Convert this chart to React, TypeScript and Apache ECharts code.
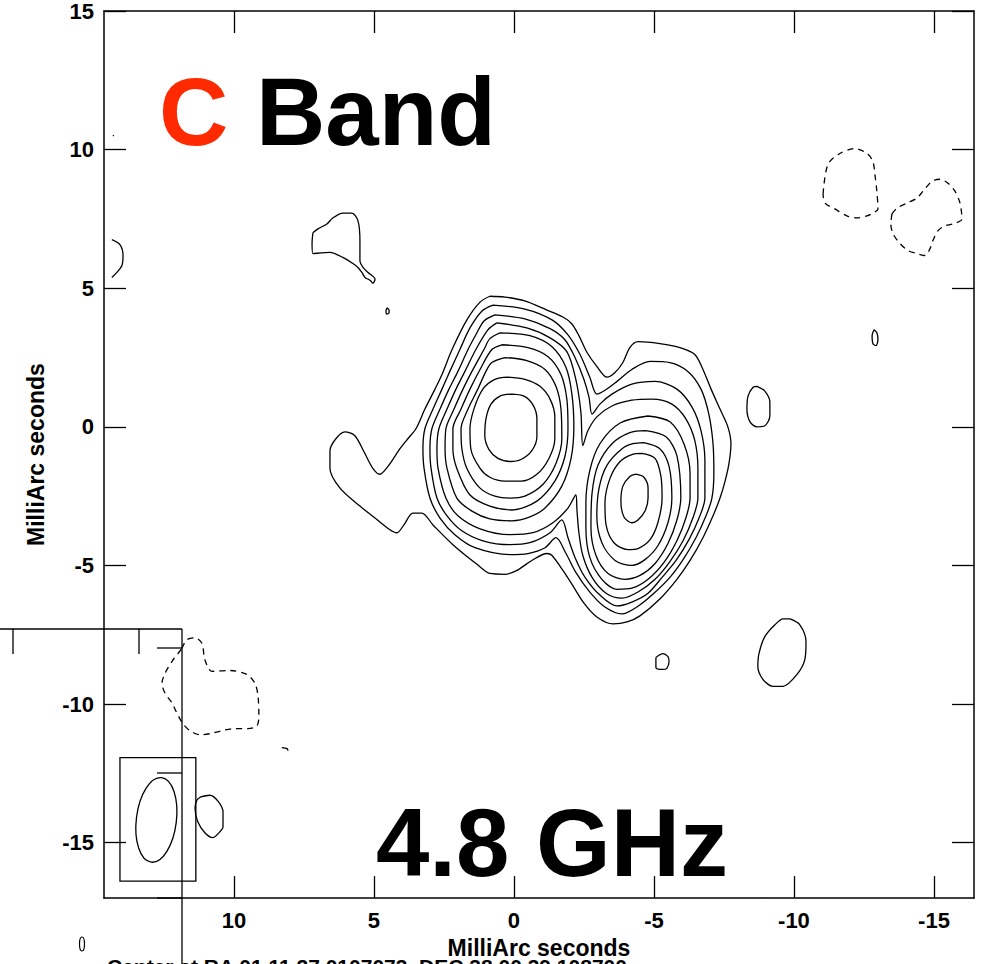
import React, { useEffect, useRef } from "react";
import * as echarts from "echarts";

type Pt = [number, number];

const FONT = '"Liberation Sans", Arial, Helvetica, sans-serif';

// Axis extents, milliarcseconds (RA offset grows to the left)
const xRange: [number, number] = [-16.43, 14.64];
const yRange: [number, number] = [-17, 15];
const xTicks = [-15, -10, -5, 0, 5, 10];
const yTicks = [-15, -10, -5, 0, 5, 10, 15];

// Western (brighter) component, closed levels 5..9
const ringA9: Pt[] = [[0.11,1.18],[-0.36,1.11],[-0.68,0.79],[-0.82,0.29],[-0.82,-0.36],[-0.64,-0.86],[-0.25,-1.18],[0.14,-1.25],[0.57,-1.14],[0.89,-0.82],[1.04,-0.32],[1.0,0.29],[0.82,0.82],[0.5,1.11]];
const ringA8: Pt[] = [[0.21,1.79],[-0.39,1.71],[-0.93,1.46],[-1.29,1.0],[-1.46,0.36],[-1.46,-0.43],[-1.25,-1.14],[-0.82,-1.71],[-0.25,-1.96],[0.32,-1.96],[0.86,-1.82],[1.21,-1.5],[1.54,-0.79],[1.57,-0.07],[1.43,0.64],[1.11,1.36],[0.68,1.71]];
const ringA7: Pt[] = [[0.32,2.5],[-0.46,2.39],[-1.11,2.07],[-1.5,1.46],[-1.68,0.64],[-1.71,-0.43],[-1.5,-1.32],[-1.04,-2.07],[-0.39,-2.5],[0.14,-2.57],[0.68,-2.5],[1.21,-2.21],[1.68,-1.5],[1.86,-0.79],[1.89,-0.07],[1.64,0.64],[1.29,1.36],[1.0,2.0],[0.79,2.32]];
const ringA6: Pt[] = [[0.43,2.96],[-0.5,2.86],[-1.21,2.54],[-1.68,1.89],[-1.89,1.0],[-1.93,-0.07],[-1.82,-1.07],[-1.46,-1.96],[-0.82,-2.68],[0.07,-3.0],[0.86,-2.86],[1.57,-2.46],[2.04,-1.5],[2.18,-0.79],[2.18,-0.07],[1.89,0.64],[1.57,1.36],[1.21,2.07],[0.79,2.79]];
const ringA5: Pt[] = [[0.5,3.39],[-0.57,3.29],[-1.36,2.89],[-1.86,2.14],[-2.07,1.18],[-2.14,0],[-2.04,-1.14],[-1.71,-2.14],[-1.11,-2.93],[-0.57,-3.25],[0.07,-3.39],[0.86,-3.32],[1.5,-3.04],[2.04,-2.57],[2.39,-1.5],[2.46,-0.79],[2.43,-0.07],[2.14,0.64],[1.82,1.36],[1.5,2.0],[1.07,2.79],[0.86,3.18]];

// Eastern component, closed levels 5..9
const ringB9: Pt[] = [[-4.36,-1.71],[-4.64,-1.82],[-4.79,-2.21],[-4.79,-2.57],[-4.68,-3.04],[-4.43,-3.36],[-4.21,-3.46],[-3.93,-3.25],[-3.82,-2.68],[-3.89,-2.14],[-4.14,-1.79]];
const ringB8: Pt[] = [[-4.57,-0.96],[-5.04,-1.14],[-5.25,-1.79],[-5.29,-2.57],[-5.14,-3.46],[-4.86,-4.07],[-4.43,-4.39],[-4.07,-4.43],[-3.57,-4.18],[-3.29,-3.54],[-3.25,-2.75],[-3.43,-1.86],[-3.79,-1.25],[-4.21,-1.0]];
const ringB7: Pt[] = [[-4.64,-0.57],[-5.21,-0.79],[-5.54,-1.43],[-5.64,-2.57],[-5.5,-3.46],[-5.14,-4.29],[-4.68,-4.79],[-4.21,-5.0],[-3.61,-4.82],[-3.14,-4.18],[-2.96,-3.21],[-3.04,-2.21],[-3.32,-1.39],[-3.86,-0.79],[-4.25,-0.61]];
const ringB6: Pt[] = [[-4.71,-0.14],[-5.43,-0.36],[-5.82,-1.04],[-5.96,-2.57],[-5.82,-3.36],[-5.5,-4.21],[-5.04,-4.93],[-4.5,-5.36],[-3.96,-5.5],[-3.36,-5.29],[-2.93,-4.64],[-2.75,-3.64],[-2.79,-2.39],[-3.0,-1.39],[-3.5,-0.61],[-4.14,-0.21]];
const ringB5: Pt[] = [[-4.79,0.39],[-5.57,0.18],[-6.07,-0.61],[-6.29,-1.68],[-6.29,-2.57],[-6.14,-3.29],[-5.82,-4.11],[-5.36,-4.89],[-4.79,-5.5],[-4.21,-5.82],[-3.68,-5.86],[-3.14,-5.5],[-2.71,-4.71],[-2.57,-3.64],[-2.57,-2.75],[-2.71,-1.57],[-3.07,-0.61],[-3.79,0.14]];

// Levels 1..4 enclose both components
const ringAB4: Pt[] = [[0.61,3.75],[-0.46,3.57],[-1.29,3.21],[-1.89,2.71],[-2.21,1.71],[-2.39,0.54],[-2.46,-0.68],[-2.64,-0.14],[-2.96,0.36],[-3.5,0.75],[-4.21,0.96],[-4.93,1.0],[-5.64,0.82],[-6.14,0.29],[-6.46,-0.5],[-6.57,-1.5],[-6.57,-2.57],[-6.39,-3.29],[-6.04,-4.11],[-5.57,-4.86],[-5.04,-5.5],[-4.43,-5.96],[-3.86,-6.18],[-3.29,-6.0],[-2.79,-5.43],[-2.46,-4.64],[-2.32,-3.82],[-2.25,-3.0],[-2.21,-2.46],[-1.93,-2.93],[-1.39,-3.46],[-0.68,-3.82],[0.14,-3.89],[1.21,-3.68],[2.0,-3.21],[2.43,-2.57],[2.71,-1.5],[2.75,-0.79],[2.68,-0.07],[2.39,0.64],[2.07,1.36],[1.75,2.0],[1.36,2.79],[0.93,3.5]];
const ringAB3: Pt[] = [[0.68,4.04],[-0.39,3.89],[-1.29,3.54],[-1.82,3.14],[-2.18,2.5],[-2.5,1.71],[-2.68,1.07],[-2.79,0.46],[-3.07,0.82],[-3.5,1.18],[-4.21,1.54],[-5.04,1.64],[-5.82,1.36],[-6.36,0.71],[-6.68,-0.14],[-6.82,-1.21],[-6.82,-2.57],[-6.61,-3.29],[-6.25,-4.07],[-5.79,-4.82],[-5.29,-5.43],[-4.79,-6.0],[-4.21,-6.32],[-3.68,-6.46],[-3.07,-6.07],[-2.54,-5.43],[-2.18,-4.71],[-1.93,-4.0],[-1.71,-3.36],[-1.29,-3.82],[-0.57,-4.18],[0.14,-4.25],[1.11,-4.11],[1.86,-3.75],[2.39,-3.21],[2.75,-2.57],[2.96,-1.5],[3.0,-0.79],[2.93,-0.07],[2.64,0.64],[2.32,1.36],[2.0,2.0],[1.64,2.79],[1.36,3.32],[1.07,3.82]];
const ringAB2: Pt[] = [[0.75,4.39],[-0.39,4.25],[-1.36,3.86],[-1.93,3.32],[-2.36,2.61],[-2.71,1.79],[-2.96,1.18],[-3.25,1.32],[-3.68,1.64],[-4.21,2.07],[-4.86,2.36],[-5.57,2.32],[-6.21,2.0],[-6.68,1.36],[-6.96,0.46],[-7.11,-0.61],[-7.14,-1.68],[-7.07,-2.57],[-6.86,-3.21],[-6.5,-4.0],[-6.04,-4.79],[-5.57,-5.43],[-4.96,-6.04],[-4.39,-6.5],[-3.86,-6.75],[-3.25,-6.5],[-2.71,-5.96],[-2.21,-5.25],[-1.86,-4.57],[-1.5,-4.0],[-1.11,-4.36],[-0.5,-4.57],[0.14,-4.61],[1.39,-4.36],[2.11,-3.89],[2.64,-3.29],[3.0,-2.57],[3.21,-1.5],[3.25,-0.79],[3.18,-0.07],[2.89,0.64],[2.57,1.36],[2.29,2.0],[1.93,2.79],[1.57,3.57],[1.14,4.18]];
// Lowest level, with the eastern plume
const ringAB1: Pt[] = [[0.86,4.71],[0.32,4.68],[-0.39,4.54],[-1.18,4.21],[-1.75,3.96],[-2.07,3.71],[-2.32,3.29],[-2.61,2.68],[-2.96,2.18],[-3.32,1.79],[-3.61,1.96],[-3.89,2.32],[-4.14,2.86],[-4.43,3.07],[-5.21,3.0],[-5.93,2.86],[-6.46,2.61],[-6.75,2.07],[-7.04,1.36],[-7.36,0.64],[-7.64,0],[-7.75,-0.61],[-7.68,-1.32],[-7.54,-1.96],[-7.36,-2.57],[-7.11,-3.21],[-6.75,-4.0],[-6.29,-4.82],[-5.82,-5.5],[-5.21,-6.21],[-4.5,-6.82],[-4.04,-7.04],[-3.54,-7.11],[-2.96,-6.86],[-2.5,-6.36],[-2.14,-5.79],[-1.75,-5.18],[-1.36,-4.64],[-1.18,-4.57],[-0.64,-4.82],[-0.11,-5.18],[0.32,-5.32],[0.86,-5.29],[1.32,-4.96],[2.18,-4.25],[2.89,-3.54],[3.29,-3.11],[3.61,-3.11],[3.93,-3.54],[4.18,-3.82],[4.43,-3.71],[4.96,-3.29],[5.5,-2.86],[6.21,-2.21],[6.57,-1.5],[6.57,-0.86],[6.36,-0.43],[6.04,-0.18],[5.68,-0.32],[5.36,-0.89],[5.04,-1.5],[4.79,-1.71],[4.5,-1.43],[4.07,-0.79],[3.79,-0.43],[3.5,-0.07],[3.18,0.64],[2.82,1.36],[2.57,1.89],[2.21,2.79],[1.68,3.86],[1.21,4.5]];

// Faint positive islands
const islandNE: Pt[] = [[7.18,7.0],[7.21,6.61],[7.18,6.25],[6.57,6.29],[6.11,6.11],[5.75,5.89],[5.57,5.75],[5.43,5.57],[5.32,5.39],[5.14,5.29],[5.04,5.18],[4.96,5.32],[5.21,5.57],[5.39,5.75],[5.5,6.0],[5.5,6.71],[5.57,7.43],[5.79,7.71],[6.11,7.71],[6.46,7.54],[6.68,7.32],[7.0,7.14]];
const islandSpeck: Pt[] = [[4.54,4.29],[4.46,4.21],[4.46,4.11],[4.54,4.07],[4.57,4.18]];
const islandW1: Pt[] = [[-8.68,1.46],[-8.96,1.29],[-9.14,0.89],[-9.14,0.39],[-8.96,0.04],[-8.68,0],[-8.43,0.18],[-8.32,0.64],[-8.36,1.11],[-8.54,1.43]];
const islandW2: Pt[] = [[-12.86,3.5],[-12.96,3.39],[-13.0,3.14],[-12.93,2.93],[-12.82,3.0],[-12.79,3.29]];
const islandSW: Pt[] = [[-9.86,-6.93],[-10.21,-7.14],[-10.43,-7.75],[-10.39,-8.39],[-10.11,-8.93],[-9.61,-9.36],[-9.25,-9.36],[-8.89,-9.11],[-8.71,-8.64],[-8.75,-8.18],[-8.96,-7.57],[-9.32,-7.14],[-9.61,-6.93]];
const islandS: Pt[] = [[-5.07,-8.32],[-5.32,-8.18],[-5.5,-8.29],[-5.54,-8.46],[-5.46,-8.71],[-5.32,-8.75],[-5.07,-8.68]];
const islandSE: Pt[] = [[11.21,-13.36],[10.86,-13.29],[10.57,-13.5],[10.39,-13.89],[10.39,-14.43],[10.57,-14.68],[10.75,-14.82],[11.04,-14.64],[11.29,-14.25],[11.39,-13.75],[11.32,-13.46]];
const arcEdgeE: Pt[] = [[14.36,6.75],[14.07,6.57],[13.96,6.18],[14.0,5.82],[14.18,5.57],[14.36,5.39]];
const dotEdgeE: Pt[] = [[14.32,10.52],[14.29,10.49]];
const flickS: Pt[] = [[8.29,-11.57],[8.1,-11.61],[8.07,-11.68]];

// Negative levels
const negNW1: Pt[] = [[-11.04,8.39],[-11.21,9.46],[-11.64,9.86],[-12.18,10.04],[-12.61,9.86],[-12.82,9.57],[-12.89,9.11],[-12.96,8.5],[-13.0,7.86],[-12.82,7.71],[-12.61,7.61],[-12.25,7.54],[-11.89,7.61],[-11.46,7.86],[-11.11,8.07]];
const negNW2: Pt[] = [[-13.5,7.68],[-13.68,7.89],[-14.04,8.07],[-14.39,8.25],[-14.61,8.5],[-14.93,8.86],[-15.21,8.93],[-15.5,8.79],[-15.75,8.5],[-15.93,8.07],[-16.0,7.5],[-15.68,7.32],[-15.39,7.25],[-15.14,7.07],[-14.96,6.71],[-14.86,6.43],[-14.68,6.18],[-14.39,6.25],[-14.07,6.36],[-13.79,6.61],[-13.54,6.96],[-13.46,7.32]];
const negSE: Pt[] = [[11.86,-8.0],[11.68,-7.68],[11.39,-7.61],[11.14,-7.82],[11.04,-8.39],[10.79,-8.82],[10.14,-8.79],[9.54,-8.93],[9.25,-9.25],[9.14,-9.71],[9.11,-10.43],[9.18,-10.79],[9.5,-10.89],[10.04,-10.89],[10.43,-10.96],[10.86,-11.07],[11.21,-11.11],[11.57,-10.96],[11.82,-10.71],[12.04,-10.32],[12.21,-9.96],[12.46,-9.61],[12.57,-9.25],[12.46,-8.89],[12.21,-8.46],[12.0,-8.18]];

const closedSolid: Pt[][] = [
  ringAB1, ringAB2, ringAB3, ringAB4,
  ringA5, ringA6, ringA7, ringA8, ringA9,
  ringB5, ringB6, ringB7, ringB8, ringB9,
  islandNE, islandSpeck, islandW1, islandW2, islandSW, islandS, islandSE,
];
const openSolid: Pt[][] = [arcEdgeE, dotEdgeE, flickS];
const closedDashed: Pt[][] = [negNW1, negNW2, negSE];

// Restoring beam: centre x, centre y, major FWHM, minor FWHM, position angle (deg)
const beamEllipse = [12.77, -14.18, 3.07, 1.43, -7];
// Beam inset box corners: x1, y1, x2, y2
const beamBox = [14.07, -11.93, 11.36, -16.39];

const close = (r: Pt[]): Pt[] => r.concat([r[0]]);

export default function App() {
  const ref = useRef<HTMLDivElement>(null);

  useEffect(() => {
    if (!ref.current) return;
    const chart = echarts.init(ref.current, undefined, { renderer: "svg" });

    const black = "#000";
    const lineSeries = (data: Pt[], dashed: boolean, smooth: number) => ({
      type: "line",
      data,
      xAxisIndex: 0,
      yAxisIndex: 0,
      symbol: "none",
      silent: true,
      smooth,
      z: 3,
      lineStyle: { color: black, width: 1.3, type: dashed ? [6, 5] : "solid" },
    });

    const axisCommon = {
      type: "value",
      axisLine: { show: true, onZero: false, lineStyle: { color: black, width: 1.5 } },
      splitLine: { show: false },
      minorTick: { show: false },
    };
    const tickStyle = (vals: number[]) => ({
      show: true,
      inside: true,
      length: 22,
      customValues: vals,
      lineStyle: { color: black, width: 1.3 },
    });
    const labelStyle = (vals: number[], margin: number) => ({
      show: true,
      customValues: vals,
      margin,
      fontSize: 22,
      fontWeight: "bold",
      color: black,
      fontFamily: FONT,
    });
    const nameStyle = { fontSize: 23, fontWeight: "bold", color: black, fontFamily: FONT };

    const option: any = {
      animation: false,
      grid: { left: 104, right: 9, top: 8, bottom: 60 },
      xAxis: [
        {
          ...axisCommon,
          position: "bottom",
          min: xRange[0],
          max: xRange[1],
          inverse: true,
          axisTick: tickStyle(xTicks),
          axisLabel: labelStyle(xTicks, 11),
          name: "MilliArc seconds",
          nameLocation: "middle",
          nameGap: 31,
          nameTextStyle: nameStyle,
        },
        {
          ...axisCommon,
          position: "top",
          min: xRange[0],
          max: xRange[1],
          inverse: true,
          axisTick: tickStyle(xTicks),
          axisLabel: { show: false },
        },
      ],
      yAxis: [
        {
          ...axisCommon,
          position: "left",
          min: yRange[0],
          max: yRange[1],
          axisTick: tickStyle(yTicks),
          axisLabel: labelStyle(yTicks, 10),
          name: "MilliArc seconds",
          nameLocation: "middle",
          nameGap: 57,
          nameTextStyle: nameStyle,
        },
        {
          ...axisCommon,
          position: "right",
          min: yRange[0],
          max: yRange[1],
          axisTick: tickStyle(yTicks),
          axisLabel: { show: false },
        },
      ],
      series: [
        ...closedSolid.map((r) => lineSeries(close(r), false, 0.3)),
        ...openSolid.map((r) => lineSeries(r, false, 0.3)),
        ...closedDashed.map((r) => lineSeries(close(r), true, 0.3)),
        {
          type: "custom",
          xAxisIndex: 0,
          yAxisIndex: 0,
          silent: true,
          z: 4,
          data: [beamBox],
          renderItem: (_p: any, api: any) => {
            const a = api.coord([api.value(0), api.value(1)]);
            const b = api.coord([api.value(2), api.value(3)]);
            return {
              type: "rect",
              shape: {
                x: Math.min(a[0], b[0]),
                y: Math.min(a[1], b[1]),
                width: Math.abs(b[0] - a[0]),
                height: Math.abs(b[1] - a[1]),
              },
              style: { fill: "none", stroke: black, lineWidth: 1.3 },
            };
          },
        },
        {
          type: "custom",
          xAxisIndex: 0,
          yAxisIndex: 0,
          silent: true,
          z: 4,
          data: [beamEllipse],
          renderItem: (_p: any, api: any) => {
            const c = api.coord([api.value(0), api.value(1)]);
            const s = api.size([api.value(3), api.value(2)]);
            return {
              type: "ellipse",
              x: c[0],
              y: c[1],
              rotation: (api.value(4) * Math.PI) / 180,
              shape: { cx: 0, cy: 0, rx: Math.abs(s[0]) / 2, ry: Math.abs(s[1]) / 2 },
              style: { fill: "none", stroke: black, lineWidth: 1.3 },
            };
          },
        },
      ],
      graphic: [
        {
          type: "text",
          x: 159,
          y: 111,
          z: 50,
          style: {
            text: "C",
            fill: "#FF2A00",
            fontSize: 96,
            fontWeight: "bold",
            fontFamily: FONT,
            align: "left",
            textAlign: "left",
            verticalAlign: "middle",
            textVerticalAlign: "middle",
          },
        },
        {
          type: "text",
          x: 256,
          y: 111,
          z: 50,
          style: {
            text: "Band",
            fill: black,
            fontSize: 96,
            fontWeight: "bold",
            fontFamily: FONT,
            align: "left",
            textAlign: "left",
            verticalAlign: "middle",
            textVerticalAlign: "middle",
          },
        },
        {
          type: "text",
          x: 552,
          y: 842,
          z: 50,
          style: {
            text: "4.8 GHz",
            fill: black,
            fontSize: 96,
            fontWeight: "bold",
            fontFamily: FONT,
            align: "center",
            textAlign: "center",
            verticalAlign: "middle",
            textVerticalAlign: "middle",
          },
        },
        // Edge of the neighbouring panel
        { type: "line", z: 60, shape: { x1: 0, y1: 629, x2: 182, y2: 629 }, style: { stroke: black, lineWidth: 1.3 } },
        { type: "line", z: 60, shape: { x1: 182, y1: 629, x2: 182, y2: 964 }, style: { stroke: black, lineWidth: 1.3 } },
        { type: "line", z: 60, shape: { x1: 13, y1: 629, x2: 13, y2: 654 }, style: { stroke: black, lineWidth: 1.3 } },
        { type: "line", z: 60, shape: { x1: 139, y1: 629, x2: 139, y2: 654 }, style: { stroke: black, lineWidth: 1.3 } },
        { type: "line", z: 60, shape: { x1: 157, y1: 648, x2: 182, y2: 648 }, style: { stroke: black, lineWidth: 1.3 } },
        { type: "line", z: 60, shape: { x1: 157, y1: 773, x2: 182, y2: 773 }, style: { stroke: black, lineWidth: 1.3 } },
        { type: "line", z: 60, shape: { x1: 157, y1: 898, x2: 182, y2: 898 }, style: { stroke: black, lineWidth: 1.3 } },
        { type: "ellipse", z: 60, shape: { cx: 82, cy: 944, rx: 2.5, ry: 7 }, style: { fill: "none", stroke: black, lineWidth: 1.2 } },
        {
          type: "text",
          x: 107,
          y: 956,
          z: 60,
          style: {
            text: "Center at RA 01 11 27.0107073  DEC 38 00 39.108700",
            fill: black,
            fontSize: 21,
            fontWeight: "bold",
            fontFamily: FONT,
            align: "left",
            textAlign: "left",
            verticalAlign: "top",
            textVerticalAlign: "top",
          },
        },
      ],
    };

    chart.setOption(option);
    return () => chart.dispose();
  }, []);

  return (
    <div
      ref={ref}
      style={{ position: "absolute", left: 0, top: 0, width: 983, height: 964, background: "#fff" }}
    />
  );
}
